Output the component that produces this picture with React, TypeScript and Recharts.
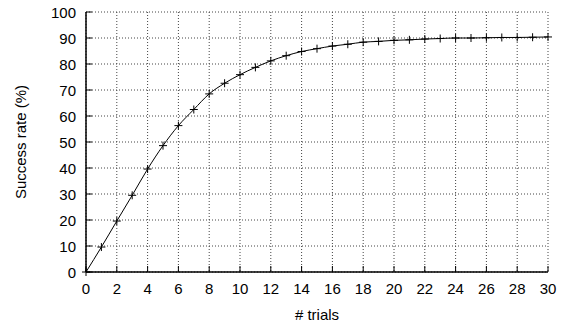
import { LineChart, Line, XAxis, YAxis, CartesianGrid } from 'recharts';

const trials = [0, 1, 2, 3, 4, 5, 6, 7, 8, 9, 10, 11, 12, 13, 14, 15, 16, 17, 18, 19, 20, 21, 22, 23, 24, 25, 26, 27, 28, 29, 30];
const successRate = [
  0, 9.6, 19.6, 29.5, 39.6, 48.6, 56.3, 62.5, 68.5, 72.6, 75.9, 78.7, 81.2, 83.2, 84.8,
  85.9, 86.9, 87.6, 88.4, 88.7, 89.1, 89.3, 89.6, 89.8, 90.0, 90.0, 90.1, 90.2, 90.2, 90.3, 90.4,
];
const xTicks = [0, 2, 4, 6, 8, 10, 12, 14, 16, 18, 20, 22, 24, 26, 28, 30];
const yTicks = [0, 10, 20, 30, 40, 50, 60, 70, 80, 90, 100];

const data = trials.map((t, i) => ({ t, rate: successRate[i] }));

const FONT = '"Liberation Sans", Arial, sans-serif';

// bottom ticks: mark points inward, label sits below
const BottomTick = (props: any) => {
  const { x, y, payload } = props;
  return (
    <g>
      <line x1={x} x2={x} y1={y} y2={y - 6} stroke="#000" />
      <text x={x} y={y + 16} textAnchor="middle" dominantBaseline="central" fontSize={15} fontFamily={FONT} fill="#000">
        {payload.value}
      </text>
    </g>
  );
};

const LeftTick = (props: any) => {
  const { x, y, payload } = props;
  return (
    <g>
      <line x1={x} x2={x + 6} y1={y} y2={y} stroke="#000" />
      <text x={x - 10} y={y} textAnchor="end" dominantBaseline="central" fontSize={15} fontFamily={FONT} fill="#000">
        {payload.value}
      </text>
    </g>
  );
};

const PlusDot = (props: any) => {
  const { cx, cy, index } = props;
  if (cx == null || cy == null) return <g key={index} />;
  return (
    <path key={index} d={`M${cx - 4},${cy}H${cx + 4}M${cx},${cy - 4}V${cy + 4}`} stroke="#000" strokeWidth={1} fill="none" />
  );
};

export default function App() {
  return (
    <div style={{ position: 'absolute', left: 0, top: 0, background: '#fff' }}>
      <LineChart width={570} height={324} data={data} margin={{ top: 12, right: 22, bottom: 0, left: 0 }}>
        <CartesianGrid stroke="#444" strokeDasharray="1 2" />
        <XAxis
          dataKey="t"
          type="number"
          domain={[0, 30]}
          ticks={xTicks}
          tickSize={0}
          tickMargin={0}
          tickLine={false}
          tick={BottomTick}
          height={52}
          axisLine={{ stroke: '#000', strokeWidth: 1.5 }}
          label={{ value: '# trials', position: 'insideBottom', offset: 4, fontSize: 15, fontFamily: FONT, fill: '#000' }}
        />
        <XAxis
          xAxisId="top"
          orientation="top"
          type="number"
          domain={[0, 30]}
          ticks={xTicks}
          mirror
          tick={false}
          tickSize={6}
          height={0}
          tickLine={{ stroke: '#000' }}
          axisLine={{ stroke: '#000', strokeWidth: 1.5 }}
        />
        <YAxis
          type="number"
          domain={[0, 100]}
          ticks={yTicks}
          tickSize={0}
          tickMargin={0}
          tickLine={false}
          tick={LeftTick}
          width={86}
          axisLine={{ stroke: '#000', strokeWidth: 1.5 }}
          label={{ value: 'Success rate (%)', angle: -90, position: 'insideLeft', offset: 21, style: { textAnchor: 'middle' }, fontSize: 15, fontFamily: FONT, fill: '#000' }}
        />
        <YAxis
          yAxisId="right"
          orientation="right"
          type="number"
          domain={[0, 100]}
          ticks={yTicks}
          mirror
          tick={false}
          tickSize={6}
          width={0}
          tickLine={{ stroke: '#000' }}
          axisLine={{ stroke: '#000', strokeWidth: 1.5 }}
        />
        <Line
          type="monotone"
          dataKey="rate"
          stroke="#000"
          strokeWidth={1}
          dot={PlusDot}
          activeDot={false}
          isAnimationActive={false}
        />
      </LineChart>
    </div>
  );
}
